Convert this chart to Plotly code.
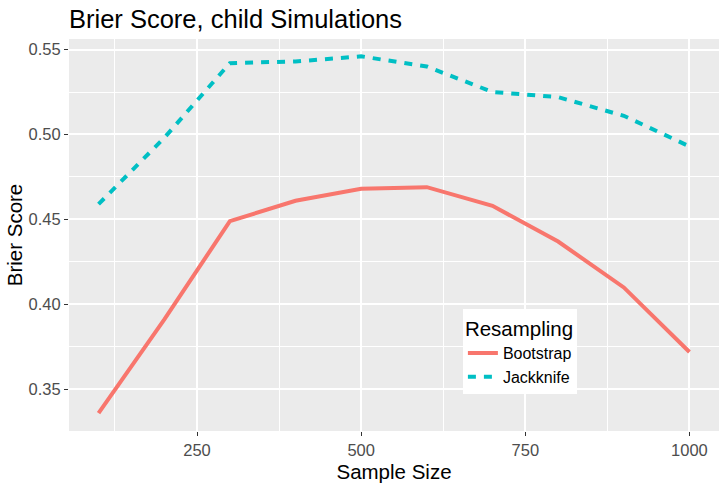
import plotly.graph_objects as go

sample_size = [100, 200, 300, 400, 500, 600, 700, 800, 900, 1000]
bootstrap = [0.336, 0.391, 0.449, 0.461, 0.468, 0.469, 0.458, 0.437, 0.410, 0.372]
jackknife = [0.459, 0.498, 0.542, 0.543, 0.546, 0.540, 0.525, 0.522, 0.511, 0.493]
x_ticks = [250, 500, 750, 1000]
y_ticks = [0.35, 0.40, 0.45, 0.50, 0.55]

FONT = "Liberation Sans, Arial, sans-serif"

fig = go.Figure()
fig.add_trace(go.Scatter(x=sample_size, y=bootstrap, mode="lines", name="Bootstrap",
                         line=dict(color="#F8766D", width=4)))
fig.add_trace(go.Scatter(x=sample_size, y=jackknife, mode="lines", name="Jackknife",
                         line=dict(color="#00BFC4", width=4, dash="8px,8px")))

fig.update_layout(
    width=728, height=487,
    margin=dict(l=69, r=9, t=39, b=56),
    paper_bgcolor="white",
    plot_bgcolor="#EBEBEB",
    font=dict(family=FONT, color="black"),
    title=dict(text="Brier Score, child Simulations", x=0, xref="paper", xanchor="left",
               y=1 - 19.5 / 487, yref="container", yanchor="middle",
               font=dict(size=25.5, color="black", family=FONT)),
    legend=dict(x=0.606, y=0.31, xanchor="left", yanchor="top",
                bgcolor="white", borderwidth=0,
                title=dict(text="Resampling", font=dict(size=20.5, color="black")),
                font=dict(size=16, color="black"),
                tracegroupgap=0, itemwidth=30),
    showlegend=True,
)
fig.update_xaxes(
    range=[55, 1045], tickvals=x_ticks, ticktext=[str(v) for v in x_ticks],
    showgrid=True, gridcolor="white", gridwidth=2, zeroline=False,
    minor=dict(tick0=125, dtick=250, showgrid=True, gridcolor="white", gridwidth=1),
    ticks="outside", ticklen=4, tickwidth=1, tickcolor="#333333",
    tickfont=dict(size=16.5, color="#4D4D4D"),
    title=dict(text="Sample Size", font=dict(size=20.5, color="black"), standoff=6),
    showline=False, automargin=False,
)
fig.update_yaxes(
    range=[0.3255, 0.5562], tickvals=y_ticks, ticktext=["%.2f" % v for v in y_ticks],
    showgrid=True, gridcolor="white", gridwidth=2, zeroline=False,
    minor=dict(tick0=0.325, dtick=0.05, showgrid=True, gridcolor="white", gridwidth=1),
    ticks="outside", ticklen=4, tickwidth=1, tickcolor="#333333",
    tickfont=dict(size=16.5, color="#4D4D4D"),
    title=dict(text="Brier Score", font=dict(size=20.5, color="black"), standoff=0),
    showline=False, automargin=False,
)

fig.write_html("out.html", config={"displayModeBar": False},
               post_script="document.body.style.margin='0';document.body.style.padding='0';")
